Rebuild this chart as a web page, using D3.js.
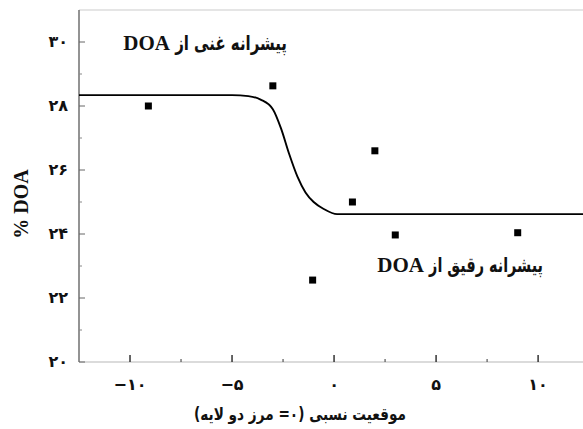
<!DOCTYPE html>
<html>
<head>
<meta charset="utf-8">
<script src="https://cdn.jsdelivr.net/npm/d3@7"></script>
<style>
  body { margin: 0; background: #fff; }
  svg { display: block; }
  .lbl { font-family: "Liberation Serif", "DejaVu Sans", serif; font-weight: bold; fill: #111; }
  .fa { font-family: "DejaVu Sans", sans-serif; font-weight: bold; fill: #111; }
</style>
</head>
<body>
<div id="chart"></div>
<script>
// measured points (relative position, DOA %)
const pointX = [-9.1, -3.0, -1.05, 0.9, 2.0, 3.0, 9.0];
const pointY = [28.0, 28.63, 22.56, 25.0, 26.6, 23.97, 24.04];

// fitted curve
const curveX = [-12.5, -5.0, -4.2, -3.6, -3.0, -2.6, -2.2, -1.8, -1.4, -1.0, -0.5, 0.15, 12.3];
const curveY = [28.34, 28.34, 28.31, 28.2, 27.9, 27.3, 26.5, 25.8, 25.3, 25.0, 24.78, 24.62, 24.62];

const xTicks = [-10, -5, 0, 5, 10];
const xMinor = [-7.5, -2.5, 2.5, 7.5];
const yTicks = [20, 22, 24, 26, 28, 30];
const yMinor = [21, 23, 25, 27, 29];

const W = 583, H = 429;
const plot = { left: 79, top: 10, bottom: 362 };

const toFa = (n) =>
  String(Math.abs(n)).replace(/\d/g, (c) => "۰۱۲۳۴۵۶۷۸۹"[+c]);

const x = d3.scaleLinear().domain([-12.5, 12.2]).range([plot.left, W]);
const y = d3.scaleLinear().domain([20, 31]).range([plot.bottom, plot.top]);

const svg = d3.select("#chart").append("svg")
  .attr("width", W).attr("height", H);

// frame lines
svg.append("line")
  .attr("x1", plot.left).attr("x2", W).attr("y1", plot.top).attr("y2", plot.top)
  .attr("stroke", "#dcdcdc").attr("stroke-width", 1.5);
svg.append("line")
  .attr("x1", plot.left).attr("x2", W).attr("y1", plot.bottom).attr("y2", plot.bottom)
  .attr("stroke", "#cfcfcf").attr("stroke-width", 1.5);
svg.append("line")
  .attr("x1", plot.left).attr("x2", plot.left).attr("y1", plot.top).attr("y2", plot.bottom)
  .attr("stroke", "#6f6f6f").attr("stroke-width", 1.5);

// x ticks (inward)
svg.append("g").selectAll("line").data(xTicks).join("line")
  .attr("x1", (d) => x(d)).attr("x2", (d) => x(d))
  .attr("y1", plot.bottom).attr("y2", plot.bottom - 7)
  .attr("stroke", "#333").attr("stroke-width", 1.5);
svg.append("g").selectAll("line").data(xMinor).join("line")
  .attr("x1", (d) => x(d)).attr("x2", (d) => x(d))
  .attr("y1", plot.bottom).attr("y2", plot.bottom - 3)
  .attr("stroke", "#555").attr("stroke-width", 1.2);
svg.append("g").selectAll("text").data(xTicks).join("text")
  .attr("class", "fa")
  .attr("x", (d) => x(d)).attr("y", 390)
  .attr("text-anchor", "middle")
  .style("font-size", "16px")
  .text((d) => (d < 0 ? "\u2212" : "") + toFa(d));

// y ticks (inward)
svg.append("g").selectAll("line").data(yTicks).join("line")
  .attr("x1", plot.left).attr("x2", plot.left + 6)
  .attr("y1", (d) => y(d)).attr("y2", (d) => y(d))
  .attr("stroke", "#666").attr("stroke-width", 1);
svg.append("g").selectAll("line").data(yMinor).join("line")
  .attr("x1", plot.left).attr("x2", plot.left + 3)
  .attr("y1", (d) => y(d)).attr("y2", (d) => y(d))
  .attr("stroke", "#888").attr("stroke-width", 1);
svg.append("g").selectAll("text").data(yTicks).join("text")
  .attr("class", "fa")
  .attr("x", 68).attr("y", (d) => y(d) + 5)
  .attr("text-anchor", "end")
  .style("font-size", "16px")
  .text((d) => toFa(d));

// curve
const curve = curveX.map((v, i) => [v, curveY[i]]);
svg.append("path")
  .datum(curve)
  .attr("fill", "none")
  .attr("stroke", "#000")
  .attr("stroke-width", 1.9)
  .attr("d", d3.line().x((d) => x(d[0])).y((d) => y(d[1])).curve(d3.curveMonotoneX));

// points
svg.append("g").selectAll("rect").data(pointX).join("rect")
  .attr("x", (d) => x(d) - 3.5)
  .attr("y", (d, i) => y(pointY[i]) - 3.5)
  .attr("width", 7).attr("height", 7)
  .attr("fill", "#000");

// squeeze a persian text horizontally to a given width
function faText(px, py, str, size, width, anchor) {
  const t = svg.append("text").attr("class", "fa")
    .attr("text-anchor", anchor)
    .style("font-size", size + "px")
    .text(str);
  const natural = t.node().getComputedTextLength();
  const sx = Math.min(1, width / natural);
  t.attr("transform", `translate(${px},${py}) scale(${sx},1)`);
  return natural * sx;
}

// persian label with a latin word on its left (rtl reading)
function mixedLabel(rightX, baseY, farsi, latin, faWidth) {
  const w = faText(rightX, baseY, farsi, 20, faWidth, "end");
  svg.append("text").attr("class", "lbl")
    .attr("x", rightX - w - 5).attr("y", baseY)
    .attr("text-anchor", "end")
    .style("font-size", "21px")
    .text(latin);
}
mixedLabel(287, 50, "پیشرانه غنی از", "DOA", 112);
mixedLabel(543, 272, "پیشرانه رقیق از", "DOA", 114);

// axis titles
svg.append("text").attr("class", "lbl")
  .attr("transform", "translate(28,204) rotate(-90)")
  .attr("text-anchor", "middle")
  .style("font-size", "20px")
  .text("% DOA");
faText(300, 420, "موقعیت نسبی (۰= مرز دو لایه)", 17, 212, "middle");
</script>
</body>
</html>
